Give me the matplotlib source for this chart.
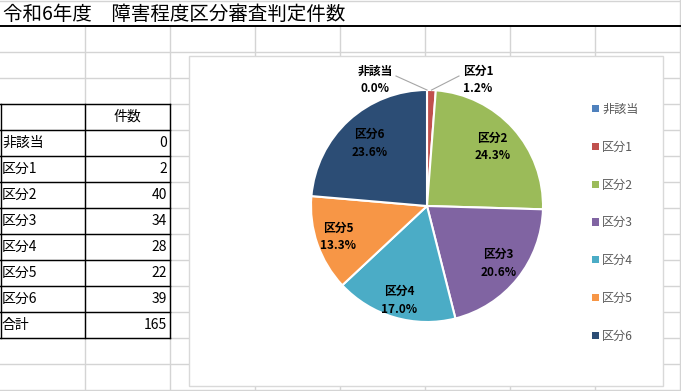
import numpy as np
import matplotlib.pyplot as plt
from matplotlib.patches import Rectangle

plt.rcParams['font.family'] = ['Noto Sans CJK JP', 'DejaVu Sans']

title = "令和6年度　障害程度区分審査判定件数"
categories = ["非該当", "区分1", "区分2", "区分3", "区分4", "区分5", "区分6"]
counts = [0, 2, 40, 34, 28, 22, 39]
header = "件数"
total_label = "合計"
colors = ["#4F81BD", "#C0504D", "#9BBB59", "#8064A2", "#4BACC6", "#F79646", "#2C4D75"]


def rounded_percents(vals):
    # largest remainder rounding to 0.1 %, like Excel's pie labels
    raw = np.array(vals, dtype=float) / sum(vals) * 1000
    base = np.floor(raw)
    rest = int(1000 - base.sum())
    order = np.argsort(-(raw - base))
    base[order[:rest]] += 1
    return base / 10


W, H = 681, 391
fig = plt.figure(figsize=(W / 100, H / 100), dpi=100)

# sheet background in pixel coords
bg = fig.add_axes([0, 0, 1, 1])
bg.set_xlim(0, W)
bg.set_ylim(H, 0)
bg.axis("off")

grid = "#D4D4D4"
col_w, row_h = 85, 26
for x in range(col_w, W + 1, col_w):
    bg.plot([x, x], [26, H], color=grid, lw=1, zorder=1)
for y in range(2 * row_h, H + 1, row_h):
    bg.plot([0, W], [y, y], color=grid, lw=1, zorder=1)
bg.plot([0, W], [1, 1], color=grid, lw=1, zorder=1)
bg.plot([W - 1, W - 1], [0, 26], color=grid, lw=1, zorder=1)
bg.plot([0, W], [26, 26], color="black", lw=1.4, zorder=2)
bg.text(3, 14, title, fontsize=14, va="center", ha="left", zorder=3)

# table
rows = [header] + categories + [total_label]
top = 4 * row_h
bottom = top + len(rows) * row_h
for i in range(len(rows) + 1):
    y = top + i * row_h
    bg.plot([0, 2 * col_w], [y, y], color="black", lw=1, zorder=2)
for x in [0.5, col_w, 2 * col_w]:
    bg.plot([x, x], [top, bottom], color="black", lw=1, zorder=2)
bg.text(col_w * 1.5, top + row_h / 2, header, fontsize=10, ha="center", va="center", zorder=3)
values = counts + [sum(counts)]
labels = categories + [total_label]
for i, (lab, v) in enumerate(zip(labels, values)):
    yc = top + (i + 1.5) * row_h
    bg.text(2, yc, lab, fontsize=10, ha="left", va="center", zorder=3)
    bg.text(2 * col_w - 3, yc, str(v), fontsize=10, ha="right", va="center", zorder=3)

# chart area
bg.add_patch(Rectangle((189, 56), 663 - 189, 386 - 56, facecolor="white",
                       edgecolor="#D9D9D9", lw=1, zorder=4))

# pie, axes in pixel units centred on the pie
cx, cy, half = 427, 206, 150
ax = fig.add_axes([(cx - half) / W, (H - cy - half) / H, 2 * half / W, 2 * half / H])
R = 116
wedges, _ = ax.pie(counts, colors=colors, startangle=90, counterclock=False, radius=R,
                   wedgeprops=dict(edgecolor="white", linewidth=1.5))
ax.set_xlim(-half, half)
ax.set_ylim(-half, half)
ax.set_aspect("equal")
ax.axis("off")

pcts = rounded_percents(counts)
lab_kw = dict(ha="center", va="center", fontsize=8.5, fontweight="bold",
              linespacing=1.45, color="black")
label_r = [None, None, 0.76, 0.79, 0.85, 0.81, 0.73]
for i, w in enumerate(wedges):
    mid = np.deg2rad((w.theta1 + w.theta2) / 2)
    if label_r[i] is not None:
        r = label_r[i] * R
        ax.text(r * np.cos(mid), r * np.sin(mid), f"{categories[i]}\n{pcts[i]:.1f}%", **lab_kw)

# small slices: labels outside with leader lines
outside = {0: (-52, 126), 1: (51, 126)}
for i, (tx, ty) in outside.items():
    w = wedges[i]
    mid = np.deg2rad((w.theta1 + w.theta2) / 2)
    ex, ey = R * np.cos(mid), R * np.sin(mid)
    lx = tx + (21 if tx < 0 else -19)
    ax.plot([ex, lx], [ey, ty + 4], color="#A6A6A6", lw=0.8)
    ax.text(tx, ty, f"{categories[i]}\n{pcts[i]:.1f}%", **lab_kw)

leg = ax.legend(wedges, categories, loc="upper left", bbox_to_anchor=(581 / W, 1 - 92 / H),
                bbox_transform=fig.transFigure, frameon=False, fontsize=8.7,
                handlelength=0.55, handleheight=0.55, handletextpad=0.3, labelspacing=2.05)
for t in leg.get_texts():
    t.set_color("#595959")
for h in leg.legend_handles:
    h.set_edgecolor("none")

fig.savefig("out.png", dpi=100)
